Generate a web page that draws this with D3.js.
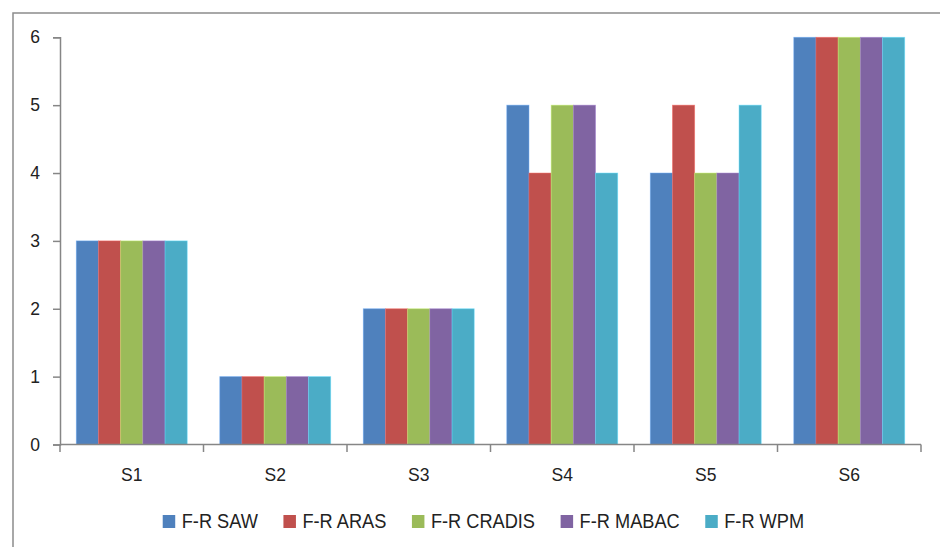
<!DOCTYPE html>
<html>
<head>
<meta charset="utf-8">
<script src="https://d3js.org/d3.v7.min.js"></script>
<style>
  html, body { margin: 0; padding: 0; background: #fff; }
  svg { display: block; }
  text { font-family: "Liberation Sans", Arial, sans-serif; fill: #222; }
</style>
</head>
<body>
<svg id="chart" width="940" height="547"></svg>
<script>
const categories = ["S1", "S2", "S3", "S4", "S5", "S6"];
const seriesNames = ["F-R SAW", "F-R ARAS", "F-R CRADIS", "F-R MABAC", "F-R WPM"];
const sawValues    = [3, 1, 2, 5, 4, 6];
const arasValues   = [3, 1, 2, 4, 5, 6];
const cradisValues = [3, 1, 2, 5, 4, 6];
const mabacValues  = [3, 1, 2, 5, 4, 6];
const wpmValues    = [3, 1, 2, 4, 5, 6];
const yTicks = [0, 1, 2, 3, 4, 5, 6];
const colors = ["#4F81BD", "#C0504D", "#9BBB59", "#8064A2", "#4BACC6"];

const seriesValues = [sawValues, arasValues, cradisValues, mabacValues, wpmValues];

(function () {
const svg = d3.select("#chart");

// chart frame
svg.append("rect")
  .attr("x", 13).attr("y", 13)
  .attr("width", 1000).attr("height", 1000)
  .attr("fill", "none").attr("stroke", "#8c8c8c").attr("stroke-width", 1.5);

const pLeft = 60, pRight = 921, pTop = 37.3, pBottom = 444.5;

const x0 = d3.scaleBand().domain(categories).range([pLeft, pRight])
  .paddingInner(0.227).paddingOuter(0.1135);
const x1 = d3.scaleBand().domain(seriesNames).range([0, x0.bandwidth()]);
const y = d3.scaleLinear().domain([0, 6]).range([pBottom, pTop]);

// bars
const groups = svg.append("g").selectAll("g")
  .data(categories)
  .join("g")
  .attr("transform", d => `translate(${x0(d)},0)`);

groups.selectAll("rect")
  .data((c, ci) => seriesNames.map((s, si) => ({ s, v: seriesValues[si][ci], i: si })))
  .join("rect")
  .attr("x", d => x1(d.s))
  .attr("width", x1.bandwidth())
  .attr("y", d => y(d.v))
  .attr("height", d => y(0) - y(d.v))
  .attr("fill", d => colors[d.i])
  .attr("stroke", d => d3.color(colors[d.i]).brighter(0.7))
  .attr("stroke-opacity", 0.6)
  .attr("stroke-width", 0.8);

const axisColor = "#868686";

// y axis
const yAxis = d3.axisLeft(y).tickValues(yTicks).tickFormat(d3.format("d")).tickSize(7).tickPadding(13);
const gy = svg.append("g").attr("transform", `translate(${pLeft},0)`).call(yAxis);
gy.select(".domain").attr("stroke", axisColor).attr("stroke-width", 1.5);
gy.selectAll(".tick line").attr("stroke", axisColor).attr("stroke-width", 1.5);
gy.selectAll(".tick text").attr("font-size", 17.5)
  .attr("font-family", "Liberation Sans, Arial, sans-serif").attr("fill", "#222");

// x axis
const gx = svg.append("g").attr("transform", `translate(0,${pBottom})`);
gx.append("line").attr("x1", pLeft).attr("x2", pRight).attr("y1", 0).attr("y2", 0)
  .attr("stroke", axisColor).attr("stroke-width", 1.5);
const boundaries = categories.map(c => x0(c) - x0.step() * x0.paddingInner() / 2);
boundaries.push(pRight);
boundaries[0] = pLeft;
gx.selectAll("line.tk").data(boundaries).join("line").attr("class", "tk")
  .attr("x1", d => d).attr("x2", d => d).attr("y1", 0).attr("y2", 7.5)
  .attr("stroke", axisColor).attr("stroke-width", 1.5);
gx.selectAll("text").data(categories).join("text")
  .attr("x", d => x0(d) + x0.bandwidth() / 2)
  .attr("y", 36.5)
  .attr("text-anchor", "middle")
  .attr("font-size", 17.5)
  .text(d => d);

// legend
const sx = 0.91;
const legend = svg.append("g");
const items = legend.selectAll("g").data(seriesNames).join("g");
items.append("rect").attr("x", 0).attr("y", -13.3).attr("width", 12.5).attr("height", 13)
  .attr("fill", (d, i) => colors[i]);
items.append("text").attr("x", 0).attr("y", 0).attr("font-size", 20)
  .attr("transform", `translate(19,0) scale(${sx},1)`).text(d => d);
let cx = 0;
const offsets = [];
const gap = 25.6;
items.each(function () {
  const w = d3.select(this).select("text").node().getComputedTextLength() * sx;
  offsets.push(cx);
  cx += 19 + w + gap;
});
const total = cx - gap;
const startX = 483.4 - total / 2;
items.attr("transform", (d, i) => `translate(${startX + offsets[i]},528.3)`);
})();
</script>
</body>
</html>
